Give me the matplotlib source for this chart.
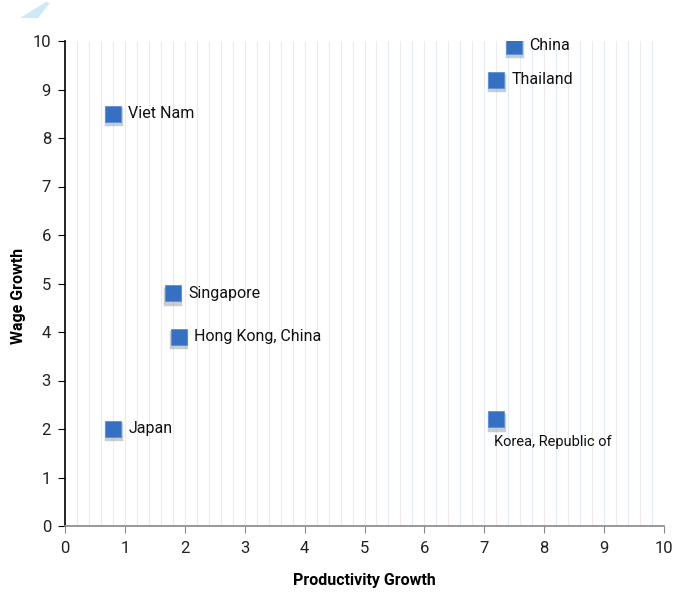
import matplotlib
matplotlib.use("Agg")
import matplotlib.pyplot as plt
from matplotlib.patches import Polygon
import numpy as np

countries = ["China", "Thailand", "Viet Nam", "Singapore", "Hong Kong, China", "Japan", "Korea, Republic of"]
productivity = [7.5, 7.2, 0.8, 1.8, 1.9, 0.8, 7.2]
wages = [9.9, 9.2, 8.5, 4.8, 3.9, 2.0, 2.2]

plt.rcParams['font.family'] = ['Roboto', 'DejaVu Sans']

fig = plt.figure(figsize=(6.76, 5.97), dpi=100)
ax = fig.add_axes([65/676, 71/597, 599/676, 485/597])

# faint vertical grid every 0.2
for i, gx in enumerate(np.arange(0.2, 10.0, 0.2)):
    col = "#e3ebf5" if i % 2 == 0 else "#ececec"
    ax.axvline(gx, color=col, lw=0.8, zorder=0)

# soft drop shadow under each marker
for k, (s, a) in enumerate([(210, 0.10), (175, 0.18), (150, 0.28)]):
    ax.scatter(np.array(productivity) + 0.01, np.array(wages) - 0.07, marker="s", s=s,
               color="#8d96a3", alpha=a, linewidths=0, zorder=2)
ax.scatter(productivity, wages, marker="s", s=135, color="#3670c2",
           edgecolors="#5b8fd8", linewidths=0.6, zorder=3)

for name, x, y in zip(countries, productivity, wages):
    if name.startswith("Korea"):
        ax.annotate(name, (x, y), xytext=(-2, -16), textcoords="offset points",
                    ha="left", va="center", fontsize=10.5, color="#111111")
    else:
        ax.annotate(name, (x, y), xytext=(11, 0), textcoords="offset points",
                    ha="left", va="center", fontsize=11.5, color="#111111")

ax.set_xlim(0, 10)
ax.set_ylim(0, 10)
ax.set_xticks(range(0, 11))
ax.set_yticks(range(0, 11))
ax.tick_params(axis="x", colors="#888888", labelcolor="#222222", length=5, labelsize=12, pad=6)
ax.tick_params(axis="y", colors="#000000", labelcolor="#222222", length=5, labelsize=12, pad=5)
for s in ["top", "right"]:
    ax.spines[s].set_visible(False)
ax.spines["left"].set_color("#000000")
ax.spines["left"].set_linewidth(1.2)
ax.spines["bottom"].set_color("#888888")
ax.spines["bottom"].set_linewidth(1.2)

ax.set_xlabel("Productivity Growth", fontsize=11.5, fontweight="bold")
ax.set_ylabel("Wage Growth", fontsize=11.5, fontweight="bold")
ax.xaxis.set_label_coords(0.5, -47/485)
ax.yaxis.set_label_coords(-39/599, 0.475)

# decorative corner shape
fig.patches.append(Polygon([[20/676, 1 - 18/597], [38/676, 1 - 18/597], [50/676, 1 - 3/597], [46/676, 1 - 2/597]],
                           closed=True, transform=fig.transFigure, facecolor="#cfe8f8", edgecolor="none"))

fig.savefig("out.png", dpi=100, facecolor="white")
